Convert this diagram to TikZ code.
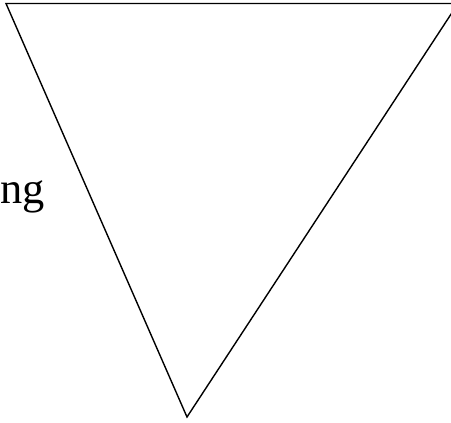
\documentclass[tikz,border=0pt]{standalone}
\usepackage{fontspec}
\setmainfont{Liberation Serif}
\usetikzlibrary{positioning}

\begin{document}
\begin{tikzpicture}[x=1bp,y=-1bp,
  edge/.style={draw=black,line width=1.4bp,line join=miter},
  word/.style={anchor=base west,inner sep=0pt,font=\fontsize{44.6}{50}\selectfont}]
  \useasboundingbox (0,0) rectangle (451,422);
  \clip (0,0) rectangle (451,422);
  \coordinate (tl) at (6,3.5);
  \coordinate (tr) at (458,3.5);
  \coordinate (bt) at (187,417);
  \draw[edge] (tl) -- (tr) -- (bt) -- cycle;
  \node[word] (lbl) at (0,203) {ng};
\end{tikzpicture}
\end{document}
